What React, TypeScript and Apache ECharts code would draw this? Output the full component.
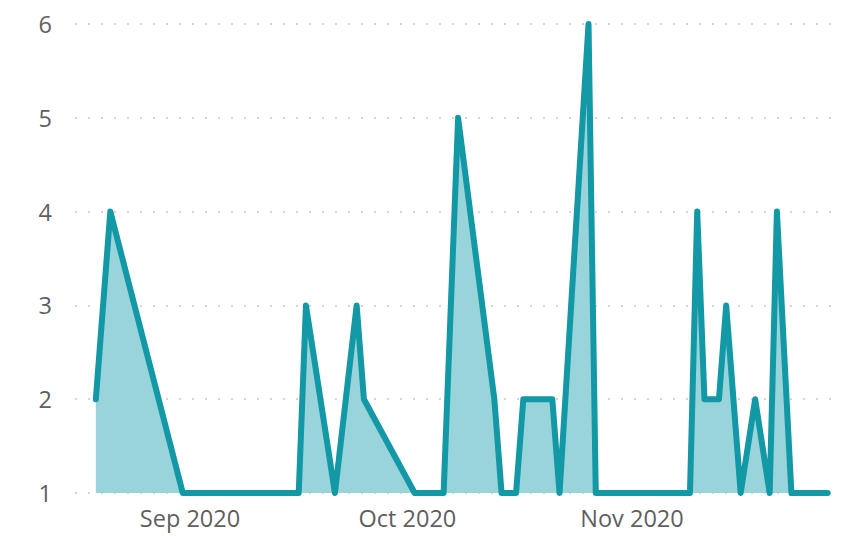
import React, { useEffect, useRef } from "react";
import * as echarts from "echarts";

const dates: string[] = [
  "2020-08-19", "2020-08-21", "2020-08-31", "2020-09-16", "2020-09-17",
  "2020-09-21", "2020-09-24", "2020-09-25", "2020-10-02", "2020-10-06",
  "2020-10-08", "2020-10-13", "2020-10-14", "2020-10-16", "2020-10-17",
  "2020-10-21", "2020-10-22", "2020-10-26", "2020-10-27", "2020-11-09",
  "2020-11-10", "2020-11-11", "2020-11-13", "2020-11-14", "2020-11-16",
  "2020-11-18", "2020-11-20", "2020-11-21", "2020-11-23", "2020-11-28",
];
const counts: number[] = [
  2, 4, 1, 1, 3,
  1, 3, 2, 1, 1,
  5, 2, 1, 1, 2,
  2, 1, 6, 1, 1,
  4, 2, 2, 3, 1,
  2, 1, 4, 1, 1,
];
const monthTicks: string[] = ["2020-09-01", "2020-10-01", "2020-11-01"];
const monthNames: string[] = ["Jan", "Feb", "Mar", "Apr", "May", "Jun", "Jul", "Aug", "Sep", "Oct", "Nov", "Dec"];
const yTicks: number[] = [1, 2, 3, 4, 5, 6];

function toTime(s: string, hour = 0): number {
  const [y, m, d] = s.split("-").map(Number);
  return new Date(y, m - 1, d, hour).getTime();
}

export default function App() {
  const ref = useRef<HTMLDivElement>(null);
  useEffect(() => {
    if (!ref.current) return;
    const chart = echarts.init(ref.current, undefined, { renderer: "svg" });
    const font = "'Open Sans', 'Noto Sans', sans-serif";
    chart.setOption({
      animation: false,
      grid: { left: 75, right: 13, top: 24, bottom: 43, containLabel: false },
      xAxis: {
        type: "value",
        min: toTime("2020-08-16", 3),
        max: toTime("2020-11-29", 17),
        axisLine: { show: false },
        axisTick: { show: false },
        splitLine: { show: false },
        axisLabel: {
          customValues: monthTicks.map((s) => toTime(s)),
          formatter: (v: number) => {
            const d = new Date(v);
            return monthNames[d.getMonth()] + " " + d.getFullYear();
          },
          color: "#5F5F5F",
          fontSize: 23.5,
          fontFamily: font,
          margin: 13,
        },
      },
      yAxis: {
        type: "value",
        min: yTicks[0],
        max: yTicks[yTicks.length - 1],
        interval: 1,
        axisLine: { show: false },
        axisTick: { show: false },
        axisLabel: {
          color: "#5F5F5F",
          fontSize: 23.5,
          fontFamily: font,
          margin: 23,
        },
        splitLine: {
          show: true,
          lineStyle: { color: "#C8C8C8", width: 1.5, type: [2, 11] },
        },
      },
      series: [
        {
          type: "line",
          data: dates.map((d, i) => [toTime(d), counts[i]]),
          showSymbol: false,
          symbol: "none",
          lineStyle: { color: "#1398A6", width: 6, join: "round", cap: "round" },
          areaStyle: { color: "#99D4DB", opacity: 1 },
          z: 3,
        },
      ],
    });
    return () => chart.dispose();
  }, []);
  return (
    <div
      ref={ref}
      style={{ position: "absolute", left: 0, top: 0, width: 853, height: 536 }}
    />
  );
}
